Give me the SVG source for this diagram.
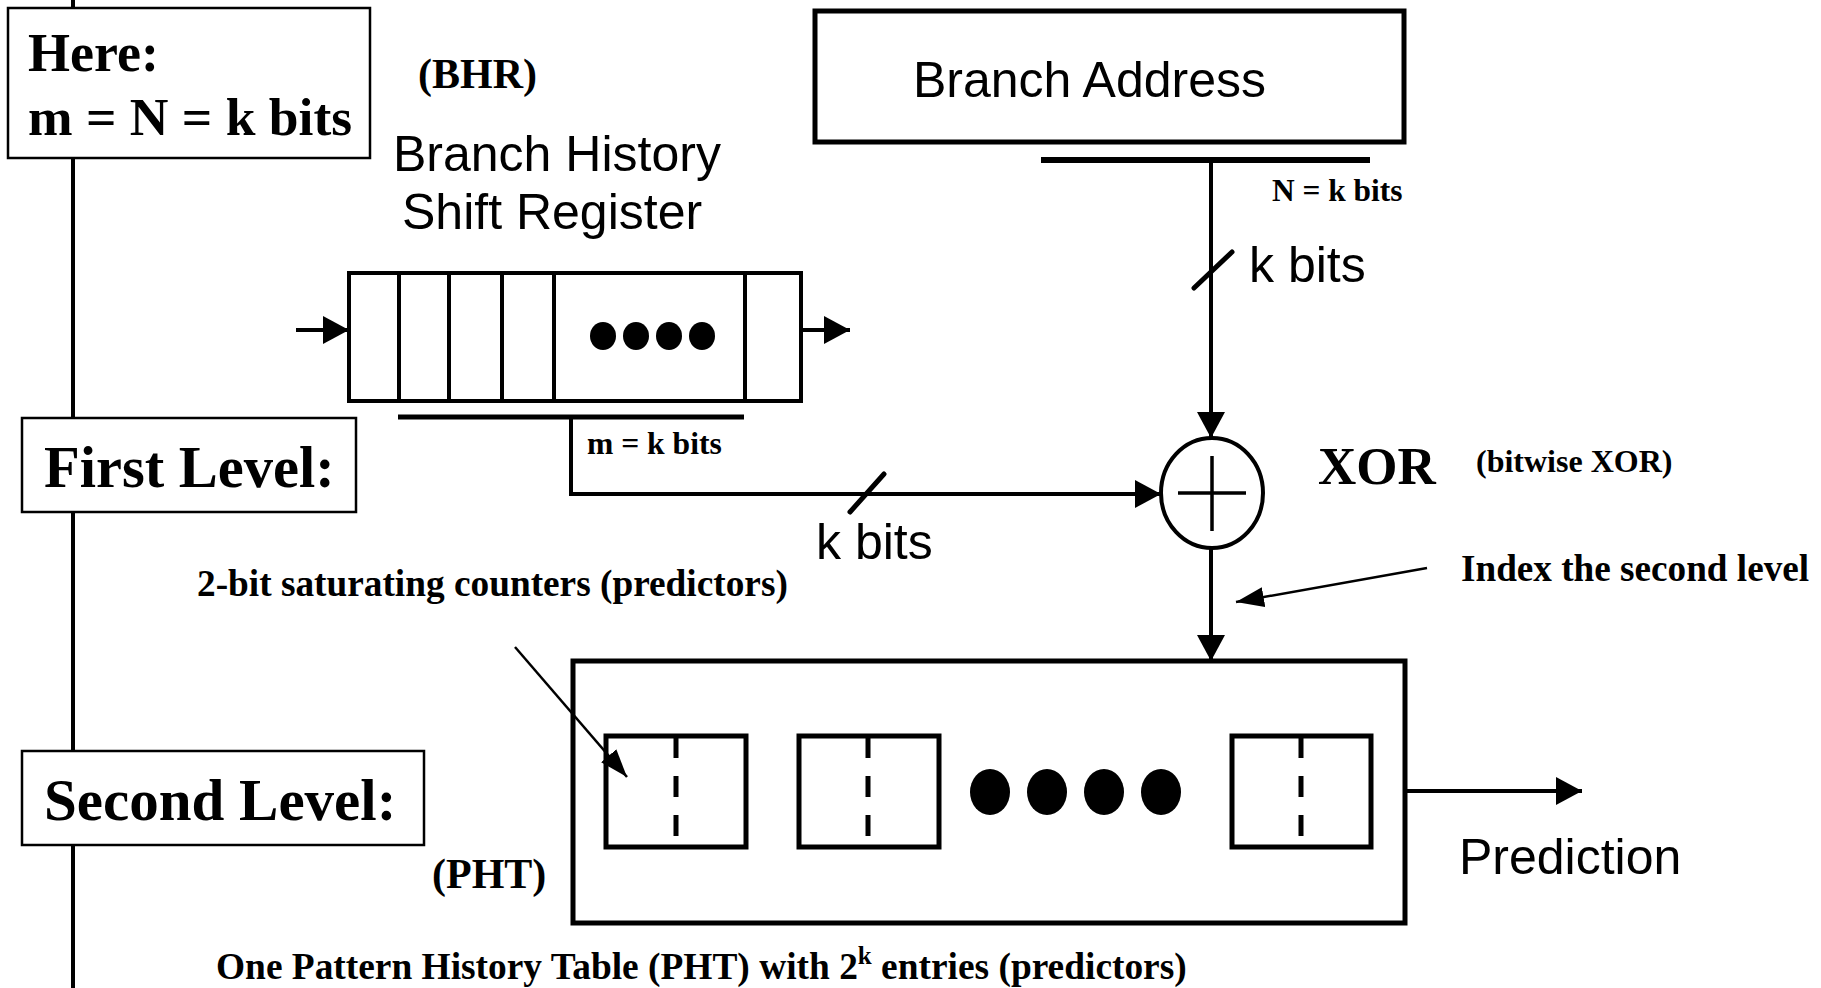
<svg xmlns="http://www.w3.org/2000/svg" width="1821" height="988" viewBox="0 0 1821 988">
<style>
.ser{font-family:"Liberation Serif","Times New Roman",serif;font-weight:bold;fill:#000}
.san{font-family:"Liberation Sans",Arial,sans-serif;font-size:50px;fill:#000}
.box{fill:#fff;stroke:#000;stroke-width:2.5}
.thick{fill:#fff;stroke:#000;stroke-width:5}
.ln{fill:none;stroke:#000;stroke-width:4}
.thin{fill:none;stroke:#000;stroke-width:2.5}
</style>
<defs>
<marker id="ah" markerUnits="userSpaceOnUse" markerWidth="26" markerHeight="28" refX="26" refY="14" orient="auto">
<path d="M0,0 L26,14 L0,28 z" fill="#000"/>
</marker>
<marker id="ap" markerUnits="userSpaceOnUse" markerWidth="28" markerHeight="20" refX="28" refY="10" orient="auto">
<path d="M0,0 L28,10 L0,20 z" fill="#000"/>
</marker>
</defs>
<rect width="1821" height="988" fill="#fff"/>
<line x1="73" y1="0" x2="73" y2="988" stroke="#000" stroke-width="4"/>

<g id="here">
<rect class="box" x="8" y="8" width="362" height="150"/>
<text class="ser" x="28" y="71" font-size="54">Here:</text>
<text class="ser" x="28" y="135" font-size="53.5">m = N = k bits</text>
</g>

<g id="first-level">
<rect class="box" x="22" y="418" width="334" height="94"/>
<text class="ser" x="44" y="487" font-size="58.5">First Level:</text>
</g>

<g id="second-level">
<rect class="box" x="22" y="751" width="402" height="94"/>
<text class="ser" x="44" y="820" font-size="59">Second Level:</text>
</g>

<g id="bhr">
<text class="ser" x="418" y="88" font-size="42">(BHR)</text>
<text class="san" x="393" y="171">Branch History</text>
<text class="san" x="402" y="229">Shift Register</text>
<rect x="349" y="273" width="452" height="128" fill="#fff" stroke="#000" stroke-width="4"/>
<g stroke="#000" stroke-width="4">
<line x1="399" y1="273" x2="399" y2="401"/>
<line x1="449" y1="273" x2="449" y2="401"/>
<line x1="502" y1="273" x2="502" y2="401"/>
<line x1="554" y1="273" x2="554" y2="401"/>
<line x1="745" y1="273" x2="745" y2="401"/>
</g>
<g fill="#000">
<ellipse cx="603" cy="336" rx="13" ry="14"/>
<ellipse cx="636" cy="336" rx="13" ry="14"/>
<ellipse cx="669" cy="336" rx="13" ry="14"/>
<ellipse cx="702" cy="336" rx="13" ry="14"/>
</g>
</g>

<g id="branch-address">
<rect class="thick" x="815" y="11" width="589" height="131"/>
<text class="san" x="913" y="97">Branch Address</text>
</g>

<g id="xor">
<ellipse cx="1212" cy="493" rx="51" ry="55" fill="#fff" stroke="#000" stroke-width="4"/>
<line x1="1178" y1="493" x2="1246" y2="493" stroke="#000" stroke-width="3.5"/>
<line x1="1212" y1="456" x2="1212" y2="531" stroke="#000" stroke-width="3.5"/>
<text class="ser" x="1318" y="484" font-size="53">XOR</text>
<text class="ser" x="1476" y="472" font-size="32">(bitwise XOR)</text>
</g>

<g id="pht">
<rect class="thick" x="573" y="661" width="832" height="262"/>
<g fill="#fff" stroke="#000" stroke-width="5">
<rect x="606" y="736" width="140" height="111"/>
<rect x="799" y="736" width="140" height="111"/>
<rect x="1232" y="736" width="139" height="111"/>
</g>
<g stroke="#000" stroke-width="5" stroke-dasharray="21 18">
<line x1="676" y1="737" x2="676" y2="846"/>
<line x1="868" y1="737" x2="868" y2="846"/>
<line x1="1301" y1="737" x2="1301" y2="846"/>
</g>
<g fill="#000">
<ellipse cx="990" cy="792" rx="20" ry="23"/>
<ellipse cx="1047" cy="792" rx="20" ry="23"/>
<ellipse cx="1104" cy="792" rx="20" ry="23"/>
<ellipse cx="1161" cy="792" rx="20" ry="23"/>
</g>
<text class="ser" x="432" y="888" font-size="42">(PHT)</text>
<text class="ser" x="216" y="979" font-size="37.4">One Pattern History Table (PHT) with 2<tspan font-size="25" dy="-15">k</tspan><tspan dy="15"> entries (predictors)</tspan></text>
</g>

<g id="labels">
<text class="ser" x="587" y="454" font-size="31.6">m = k bits</text>
<text class="ser" x="1272" y="201" font-size="31.4">N = k bits</text>
<text class="san" x="1249" y="282">k bits</text>
<text class="san" x="816" y="559">k bits</text>
<text class="ser" x="197" y="596" font-size="37.3">2-bit saturating counters (predictors)</text>
<text class="ser" x="1461" y="581" font-size="37.2">Index the second level</text>
<text class="san" x="1459" y="874">Prediction</text>
</g>

<g id="connectors">
<line class="ln" x1="296" y1="330" x2="349" y2="330" marker-end="url(#ah)"/>
<line class="ln" x1="801" y1="330" x2="850" y2="330" marker-end="url(#ah)"/>
<line x1="398" y1="417" x2="744" y2="417" stroke="#000" stroke-width="5"/>
<path class="ln" d="M571,417 V494 H1161" marker-end="url(#ah)"/>
<line x1="850" y1="512" x2="884" y2="474" stroke="#000" stroke-width="5" stroke-linecap="round"/>
<line x1="1041" y1="160" x2="1370" y2="160" stroke="#000" stroke-width="6"/>
<line class="ln" x1="1211" y1="160" x2="1211" y2="438" marker-end="url(#ah)"/>
<line x1="1194" y1="288" x2="1232" y2="252" stroke="#000" stroke-width="5" stroke-linecap="round"/>
<line class="ln" x1="1211" y1="548" x2="1211" y2="661" marker-end="url(#ah)"/>
<line class="ln" x1="1405" y1="791" x2="1582" y2="791" marker-end="url(#ah)"/>
<line class="thin" x1="1427" y1="568" x2="1236" y2="602" marker-end="url(#ap)"/>
<line class="thin" x1="515" y1="647" x2="627" y2="777" marker-end="url(#ap)"/>
</g>
</svg>
